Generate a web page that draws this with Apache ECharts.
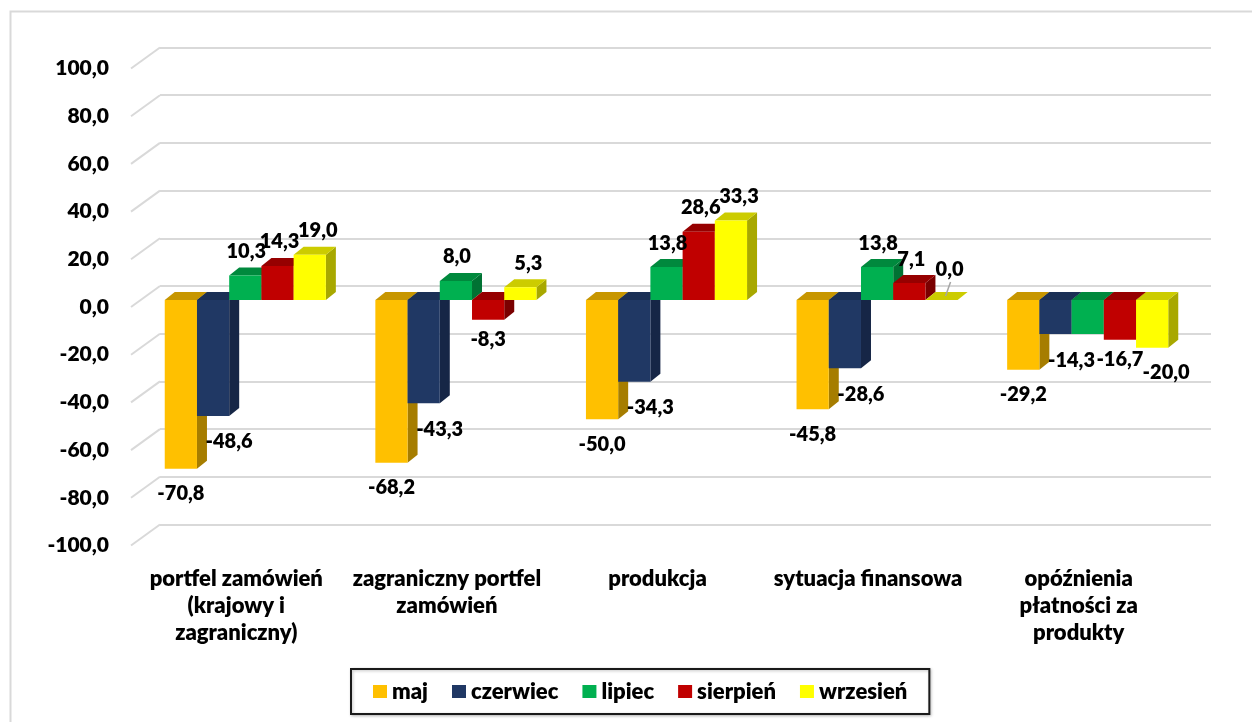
<!DOCTYPE html>
<html>
<head>
<meta charset="utf-8">
<script src="https://cdn.jsdelivr.net/npm/echarts@6/dist/echarts.min.js"></script>
<style>
html,body{margin:0;padding:0;background:#fff;}
#chart{width:1252px;height:722px;}
</style>
</head>
<body>
<div id="chart"></div>
<script>
// ---- data ----
const categories = ['portfel zamówień (krajowy i zagraniczny)', 'zagraniczny portfel zamówień', 'produkcja', 'sytuacja finansowa', 'opóźnienia płatności za produkty'];
const categoryLabels = ['portfel zamówień\n(krajowy i\nzagraniczny)', 'zagraniczny portfel\nzamówień', 'produkcja', 'sytuacja finansowa', 'opóźnienia\npłatności za\nprodukty'];
const seriesNames = ['maj', 'czerwiec', 'lipiec', 'sierpień', 'wrzesień'];
const maj = [-70.8, -68.2, -50.0, -45.8, -29.2];
const czerwiec = [-48.6, -43.3, -34.3, -28.6, -14.3];
const lipiec = [10.3, 8.0, 13.8, 13.8, -14.3];
const sierpien = [14.3, -8.3, 28.6, 7.1, -16.7];
const wrzesien = [19.0, 5.3, 33.3, 0.0, -20.0];
const yTicks = [-100, -80, -60, -40, -20, 0, 20, 40, 60, 80, 100];

// ---- styles ----
const palette = [
  {front:'#FFC000', top:'#C79600', side:'#A67D00'},
  {front:'#203864', top:'#1A2F55', side:'#162646'},
  {front:'#00B050', top:'#00893D', side:'#007233'},
  {front:'#C00000', top:'#960000', side:'#7A0000'},
  {front:'#FFFF00', top:'#CCCC00', side:'#A8A800'}
];
// label offsets per series: [dx, dy] for negative values; positive dx
const negOff = [[0, 25], [16, 26], [-16, 27], [0, 20], [14, 25]];
const posDx = [0, 0, 1, 2, 8];
const FONT = 'Lato';
const WEIGHT = 800;
const fmt = v => v.toFixed(1).replace('.', ',');
const allSeries = [maj, czerwiec, lipiec, sierpien, wrzesien];

function renderBar(params, api) {
  const si = params.seriesIndex;
  const cat = api.value(0), v = api.value(1);
  const band = api.size([1, 0])[0];
  const w = band * 0.153;
  const p0 = api.coord([cat, 0]);
  const p1 = api.coord([cat, v]);
  const xl = p0[0] + (si - 2.5) * w, xr = xl + w;
  const yTop = Math.min(p0[1], p1[1]), yBot = Math.max(p0[1], p1[1]);
  const dx = 10, dy = 8;
  const c = palette[si];
  const children = [];
  if (yBot - yTop > 0.5) {
    children.push({type:'polygon', shape:{points:[[xr,yTop],[xr+dx,yTop-dy],[xr+dx,yBot-dy],[xr,yBot]]}, style:{fill:c.side}});
  }
  children.push({type:'polygon', shape:{points:[[xl,yTop],[xr,yTop],[xr+dx,yTop-dy],[xl+dx,yTop-dy]]}, style:{fill:c.top}});
  if (yBot - yTop > 0.5) {
    children.push({type:'rect', shape:{x:xl, y:yTop, width:w, height:yBot-yTop}, style:{fill:c.front}});
  }
  const xc = (xl + xr) / 2;
  let lx, ly;
  if (v > 0) { lx = xc + posDx[si]; ly = yTop - 24; }
  else if (v < 0) { lx = xc + negOff[si][0]; ly = yBot + negOff[si][1]; }
  else {
    lx = xc + 8; ly = yTop - 30;
    children.push({type:'line', z2:90, shape:{x1:lx+1, y1:ly+12, x2:xc+dx/2-1, y2:yTop-dy/2}, style:{stroke:'#a6a6a6', lineWidth:1.5}});
  }
  // a label that lands exactly on the neighbouring (identical) label is drawn only once
  const prev = si > 0 ? allSeries[si - 1][cat] : null;
  const coincide = si === 2 && v < 0 && prev === v;
  if (!coincide) {
    children.push({type:'text', z2:100, x:lx, y:ly, style:{text:fmt(v), fill:'#000', font:WEIGHT + ' 20px ' + FONT, align:'center', verticalAlign:'middle'}});
  }
  return {type:'group', children};
}

function renderDiag(params, api) {
  const p = api.coord([0, api.value(1)]);
  return {type:'line', shape:{x1:p[0]-29, y1:p[1]+21, x2:p[0], y2:p[1]}, style:{stroke:'#d9d9d9', lineWidth:2}};
}

const barSeries = allSeries.map((arr, i) => ({
  name: seriesNames[i],
  type: 'custom',
  xAxisIndex: 0, yAxisIndex: 0,
  renderItem: renderBar,
  itemStyle: {color: palette[i].front},
  encode: {x: 0, y: 1},
  data: arr.map((v, k) => [k, v]),
  z: 3
}));

const axisText = {fontFamily: FONT, fontWeight: WEIGHT, fontSize: 21, color: '#000'};

const option = {
  animation: false,
  backgroundColor: '#fff',
  graphic: [{type:'rect', left:8, top:9, z:-1, shape:{width:1300, height:800}, style:{fill:'none', stroke:'#d9d9d9', lineWidth:2}}],
  grid: [
    {left:140, right:59, top:61.5, bottom:183.5},
    {left:131, right:68, top:68.5, bottom:176.5},
    {left:160, right:41, top:47.5, bottom:197.5}
  ],
  xAxis: [
    {gridIndex:0, type:'category', data:categories, show:false},
    {gridIndex:1, type:'category', data:categories, axisLine:{show:false}, axisTick:{show:false},
     axisLabel:Object.assign({}, axisText, {fontSize:22, interval:0, margin:20, lineHeight:27, align:'center', formatter:(val, idx) => categoryLabels[idx]})},
    {gridIndex:2, type:'value', min:0, max:1, show:false}
  ],
  yAxis: [
    {gridIndex:0, type:'value', min:yTicks[0], max:yTicks[yTicks.length-1], interval:20, show:false},
    {gridIndex:1, type:'value', min:yTicks[0], max:yTicks[yTicks.length-1], interval:20, splitLine:{show:false}, axisLine:{show:false}, axisTick:{show:false},
     axisLabel:Object.assign({margin:22, formatter: v => fmt(v)}, axisText)},
    {gridIndex:2, type:'value', min:yTicks[0], max:yTicks[yTicks.length-1], interval:20, axisLabel:{show:false}, axisLine:{show:false}, axisTick:{show:false},
     splitLine:{show:true, lineStyle:{color:'#d9d9d9', width:2}}}
  ],
  legend: {
    data: seriesNames,
    left: 351, top: 669,
    orient: 'horizontal',
    icon: 'rect',
    itemWidth: 14, itemHeight: 13, itemGap: 24,
    padding: [10, 22],
    borderColor: '#1a1a1a', borderWidth: 2,
    shadowColor: 'rgba(0,0,0,0.25)', shadowBlur: 3, shadowOffsetX: 1, shadowOffsetY: 1,
    backgroundColor: '#fff',
    textStyle: {fontFamily: FONT, fontWeight: WEIGHT, fontSize: 22, color: '#000', lineHeight: 25}
  },
  series: barSeries.concat([{
    type: 'custom',
    name: 'diag',
    xAxisIndex: 2, yAxisIndex: 2,
    renderItem: renderDiag,
    encode: {x: 0, y: 1},
    data: yTicks.map(t => [0, t]),
    z: 1,
    silent: true
  }])
};

const chart = echarts.init(document.getElementById('chart'));
chart.setOption(option);
</script>
</body>
</html>
